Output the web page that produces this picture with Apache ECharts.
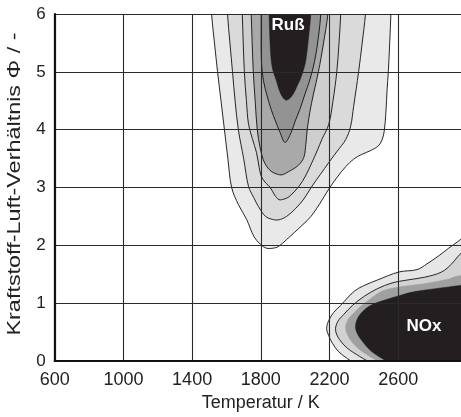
<!DOCTYPE html>
<html>
<head>
<meta charset="utf-8">
<script src="https://cdn.jsdelivr.net/npm/echarts@6/dist/echarts.min.js"></script>
<style>
html,body{margin:0;padding:0;background:#fff;overflow:hidden;width:461px;height:417px;}
#chart{width:470px;height:417px;}
</style>
</head>
<body>
<div id="chart"></div>
<script>
// Axis data
const xTickValues = [600, 1000, 1400, 1800, 2200, 2600];
const yTickValues = [0, 1, 2, 3, 4, 5, 6];
const xTitle = 'Temperatur / K';
const yTitle = 'Kraftstoff-Luft-Verhältnis Φ / -';

// Soot (Ruß) contours, [Temperatur K, Φ], outermost to innermost
const sootC5 = [[1510,6.3],[1513,6.0],[1530,5.5],[1548,5.0],[1568,4.5],[1588,4.0],[1608,3.5],[1630,3.0],[1670,2.7],[1717,2.45],[1760,2.15],[1797,2.02],[1833,1.95],[1870,1.95],[1903,1.98],[1950,2.1],[1998,2.23],[2045,2.36],[2092,2.5],[2145,2.73],[2195,2.97],[2245,3.18],[2294,3.36],[2340,3.49],[2386,3.57],[2440,3.64],[2484,3.72],[2505,3.82],[2518,3.97],[2528,4.3],[2535,4.7],[2542,5.0],[2550,5.5],[2557,6.0],[2560,6.3]];
const sootC4 = [[1604,6.3],[1606,6.0],[1620,5.5],[1635,5.0],[1650,4.5],[1669,4.0],[1700,3.5],[1728,3.02],[1758,2.83],[1786,2.67],[1827,2.5],[1866,2.45],[1903,2.44],[1950,2.5],[2000,2.63],[2050,2.8],[2097,3.02],[2145,3.22],[2195,3.43],[2245,3.63],[2294,3.83],[2322,4.05],[2340,4.4],[2369,5.0],[2390,5.5],[2409,6.0],[2412,6.3]];
const sootC3 = [[1690,6.3],[1692,6.0],[1704,5.0],[1716,4.5],[1728,4.1],[1750,3.85],[1775,3.6],[1790,3.35],[1803,3.19],[1828,3.08],[1855,3.0],[1880,2.87],[1906,2.79],[1935,2.8],[1964,2.84],[2022,3.02],[2060,3.2],[2097,3.43],[2130,3.65],[2155,3.83],[2195,4.09],[2220,4.5],[2242,5.0],[2255,5.5],[2265,6.0],[2267,6.3]];
const sootC2 = [[1742,6.3],[1744,6.0],[1756,5.0],[1767,4.5],[1779,4.0],[1795,3.7],[1814,3.48],[1835,3.36],[1860,3.28],[1895,3.23],[1924,3.22],[1959,3.27],[2017,3.38],[2050,3.52],[2062,3.75],[2070,4.0],[2085,4.3],[2105,4.6],[2135,5.0],[2165,5.5],[2190,6.0],[2192,6.3]];
const sootC1 = [[1800,6.3],[1802,6.0],[1803,5.2],[1815,4.85],[1835,4.6],[1860,4.35],[1885,4.15],[1912,3.95],[1941,3.78],[1976,3.95],[2000,4.15],[2027,4.35],[2055,4.6],[2085,4.86],[2114,5.2],[2135,5.6],[2149,6.0],[2151,6.3]];
const sootCore = [[1846,6.3],[1848,6.0],[1852,5.6],[1860,5.2],[1872,5.0],[1889,4.86],[1905,4.7],[1925,4.57],[1948,4.51],[1972,4.55],[1995,4.65],[2015,4.78],[2028,4.86],[2045,5.0],[2062,5.2],[2078,5.6],[2091,6.0],[2093,6.3]];

// NOx contours, [Temperatur K, Φ], outermost to innermost
const noxC4 = [[2362,-0.2],[2362,-0.08],[2304,0.04],[2253,0.16],[2218,0.30],[2195,0.44],[2183,0.56],[2195,0.70],[2224,0.84],[2264,0.96],[2304,1.09],[2345,1.21],[2397,1.30],[2478,1.40],[2605,1.54],[2709,1.58],[2767,1.68],[2836,1.82],[2893,1.95],[2945,2.06],[2997,2.18],[3100,2.3],[3100,-0.2]];
const noxC3 = [[2456,-0.2],[2456,-0.08],[2374,0.08],[2304,0.22],[2258,0.37],[2235,0.53],[2247,0.68],[2281,0.80],[2333,0.96],[2397,1.11],[2478,1.25],[2564,1.35],[2651,1.40],[2755,1.45],[2853,1.54],[2911,1.68],[2945,1.80],[2997,1.94],[3100,2.05],[3100,-0.2]];
const noxC2 = [[2518,-0.2],[2518,-0.08],[2432,0.08],[2362,0.23],[2316,0.39],[2293,0.56],[2304,0.70],[2318,0.76],[2364,0.90],[2422,1.04],[2507,1.21],[2605,1.28],[2738,1.33],[2894,1.42],[2945,1.47],[3100,1.5],[3100,-0.2]];
const noxCore = [[2576,-0.2],[2576,-0.08],[2507,0.04],[2438,0.18],[2391,0.34],[2362,0.47],[2351,0.59],[2362,0.73],[2391,0.85],[2438,0.96],[2507,1.04],[2605,1.13],[2697,1.20],[2894,1.28],[2945,1.30],[3100,1.32],[3100,-0.2]];

// Region labels
const regionLabels = [[1958, 5.81, 'Ruß'], [2749, 0.60, 'NOx']];

const FONT = "'Liberation Sans', Arial, Helvetica, sans-serif";

function polySeries(points, fill, stroke, lw) {
  return {
    type: 'custom',
    coordinateSystem: 'cartesian2d',
    clip: true,
    silent: true,
    data: [points[0]],
    renderItem: function (params, api) {
      const pts = points.map(function (p) { return api.coord(p); });
      return {
        type: 'polygon',
        shape: { points: pts, smooth: 0.35 },
        style: { fill: fill, stroke: stroke, lineWidth: lw }
      };
    }
  };
}

const chart = echarts.init(document.getElementById('chart'), null, { renderer: 'canvas' });
const option = {
  animation: false,
  backgroundColor: '#ffffff',
  grid: { left: 54.7, right: 0, top: 14, bottom: 54.5 },
  graphic: [{
    type: 'text',
    x: 15, y: 184,
    rotation: Math.PI / 2,
    scaleX: 1.3,
    silent: true,
    style: { text: yTitle, font: '18px ' + FONT, fill: '#222',
      align: 'center', verticalAlign: 'middle', textAlign: 'center', textVerticalAlign: 'middle' }
  }],
  xAxis: {
    type: 'value', min: 600, max: 3000, interval: 400, z: 10,
    name: xTitle, nameLocation: 'middle', nameGap: 33,
    nameTextStyle: { fontFamily: FONT, fontSize: 18, color: '#222' },
    axisLine: { show: true, onZero: false, lineStyle: { color: '#111', width: 2.2 } },
    axisTick: { show: false },
    axisLabel: { fontFamily: FONT, fontSize: 18, color: '#222', margin: 10,
      formatter: function (v) { return xTickValues.indexOf(v) >= 0 ? String(v) : ''; } },
    splitLine: { show: true, lineStyle: { color: '#2a2a2a', width: 1.1 } }
  },
  yAxis: {
    type: 'value', min: 0, max: 6, interval: 1, z: 10,
    axisLine: { show: true, onZero: false, lineStyle: { color: '#111', width: 2.2 } },
    axisTick: { show: false },
    axisLabel: { fontFamily: FONT, fontSize: 17, color: '#222', margin: 9,
      formatter: function (v) { return yTickValues.indexOf(v) >= 0 ? String(v) : ''; } },
    splitLine: { show: true, lineStyle: { color: '#2a2a2a', width: 1.1 } }
  },
  series: [
    polySeries(sootC5, '#e9e9e9', '#111', 0.9),
    polySeries(sootC4, '#dadada', '#111', 0.9),
    polySeries(sootC3, '#cecece', '#111', 0.9),
    polySeries(sootC2, '#a9a9a9', '#111', 0.9),
    polySeries(sootC1, '#939393', '#111', 0.9),
    polySeries(sootCore, '#231f20', '#231f20', 0.5),
    polySeries(noxC4, '#e6e6e6', '#111', 0.9),
    polySeries(noxC3, '#d2d2d2', '#111', 0.9),
    polySeries(noxC2, '#a0a0a0', '#a0a0a0', 0.5),
    polySeries(noxCore, '#231f20', '#231f20', 0.5),
    {
      type: 'custom', coordinateSystem: 'cartesian2d', silent: true, z: 20,
      data: regionLabels,
      renderItem: function (params, api) {
        const c = api.coord([api.value(0), api.value(1)]);
        return {
          type: 'text',
          x: c[0], y: c[1],
          style: { text: regionLabels[params.dataIndex][2], fill: '#ffffff',
            font: 'bold 17px ' + FONT, align: 'center', verticalAlign: 'middle',
            textAlign: 'center', textVerticalAlign: 'middle' }
        };
      }
    }
  ]
};
chart.setOption(option);
</script>
</body>
</html>
